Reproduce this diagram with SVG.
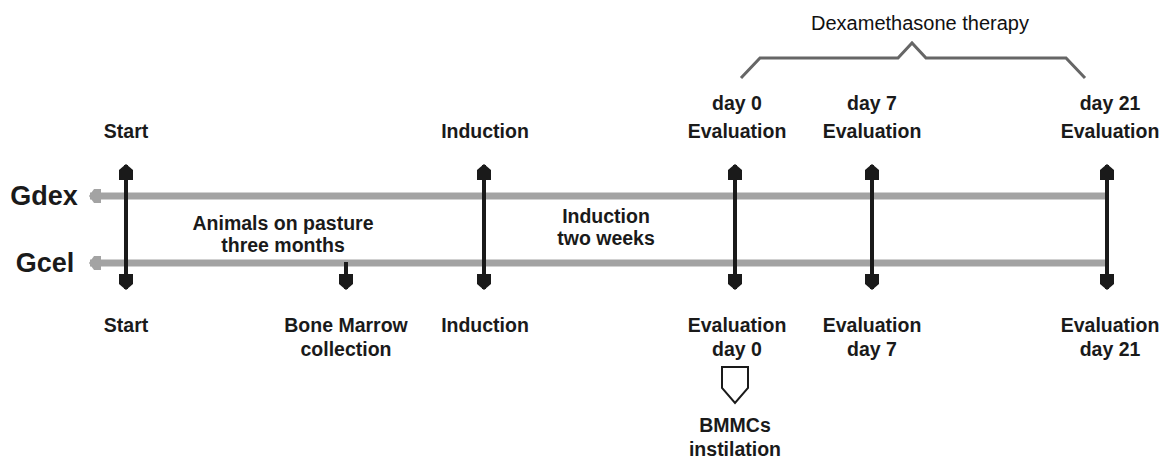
<svg xmlns="http://www.w3.org/2000/svg" width="1164" height="459" viewBox="0 0 1164 459">
<style>
text{font-family:"Liberation Sans",Arial,sans-serif;font-weight:bold;fill:#1a1a1a;text-anchor:middle;font-size:19.5px}
.big{font-size:27px}
.dex{font-weight:normal;font-size:20px;fill:#111}
.tl{stroke:#a3a3a3;stroke-width:7;fill:none}
.ev{stroke:#1a1a1a;stroke-width:4;fill:none}
</style>
<defs>
<marker id="ah" viewBox="0 0 16 14" refX="15" refY="7" markerWidth="16" markerHeight="14" markerUnits="userSpaceOnUse" orient="auto-start-reverse">
<path d="M0,0 L10,0 L16,7 L10,14 L0,14 Z" fill="#1a1a1a"/>
</marker>
<marker id="gh" viewBox="0 0 12 14" refX="11" refY="7" markerWidth="12" markerHeight="14" markerUnits="userSpaceOnUse" orient="auto">
<path d="M0,0 L7,0 L12,7 L7,14 L0,14 Z" fill="#a3a3a3"/>
</marker>
</defs>
<g id="labels-groups">
<text class="big" x="44" y="205">Gdex</text>
<text class="big" x="45" y="272">Gcel</text>
</g>
<g id="connectors">
<line class="tl" x1="1107" y1="196" x2="90" y2="196" marker-end="url(#gh)"/>
<line class="tl" x1="1107" y1="263" x2="90" y2="263" marker-end="url(#gh)"/>
<line class="ev" x1="126" y1="165" x2="126" y2="289" marker-start="url(#ah)" marker-end="url(#ah)"/>
<line class="ev" x1="484" y1="165" x2="484" y2="289" marker-start="url(#ah)" marker-end="url(#ah)"/>
<line class="ev" x1="735" y1="165" x2="735" y2="289" marker-start="url(#ah)" marker-end="url(#ah)"/>
<line class="ev" x1="872" y1="165" x2="872" y2="289" marker-start="url(#ah)" marker-end="url(#ah)"/>
<line class="ev" x1="1107" y1="165" x2="1107" y2="289" marker-start="url(#ah)" marker-end="url(#ah)"/>
<line class="ev" x1="346" y1="262" x2="346" y2="289" marker-end="url(#ah)"/>
</g>
<g id="brace">
<polyline points="741,78 760,58 898,58 912,43 926,58 1066,58 1085,78" fill="none" stroke="#666" stroke-width="3"/>
<text class="dex" x="920" y="30">Dexamethasone therapy</text>
</g>
<g id="start">
<text x="126" y="138">Start</text>
<text x="126" y="332">Start</text>
</g>
<g id="pasture">
<text x="283" y="230">Animals on pasture</text>
<text x="283" y="252">three months</text>
</g>
<g id="bone-marrow">
<text x="346" y="332">Bone Marrow</text>
<text x="346" y="356">collection</text>
</g>
<g id="induction">
<text x="485" y="138">Induction</text>
<text x="485" y="332">Induction</text>
</g>
<g id="induction-period">
<text x="606" y="223">Induction</text>
<text x="606" y="245">two weeks</text>
</g>
<g id="day0">
<text x="737" y="110">day 0</text>
<text x="737" y="138">Evaluation</text>
<text x="737" y="332">Evaluation</text>
<text x="737" y="356">day 0</text>
</g>
<g id="day7">
<text x="872" y="110">day 7</text>
<text x="872" y="138">Evaluation</text>
<text x="872" y="332">Evaluation</text>
<text x="872" y="356">day 7</text>
</g>
<g id="day21">
<text x="1110" y="110">day 21</text>
<text x="1110" y="138">Evaluation</text>
<text x="1110" y="332">Evaluation</text>
<text x="1110" y="356">day 21</text>
</g>
<g id="bmmcs">
<path d="M722,367 L748,367 L748,388 L735,403 L722,388 Z" fill="#fff" stroke="#1a1a1a" stroke-width="2"/>
<text x="735" y="432">BMMCs</text>
<text x="735" y="456">instilation</text>
</g>
</svg>
